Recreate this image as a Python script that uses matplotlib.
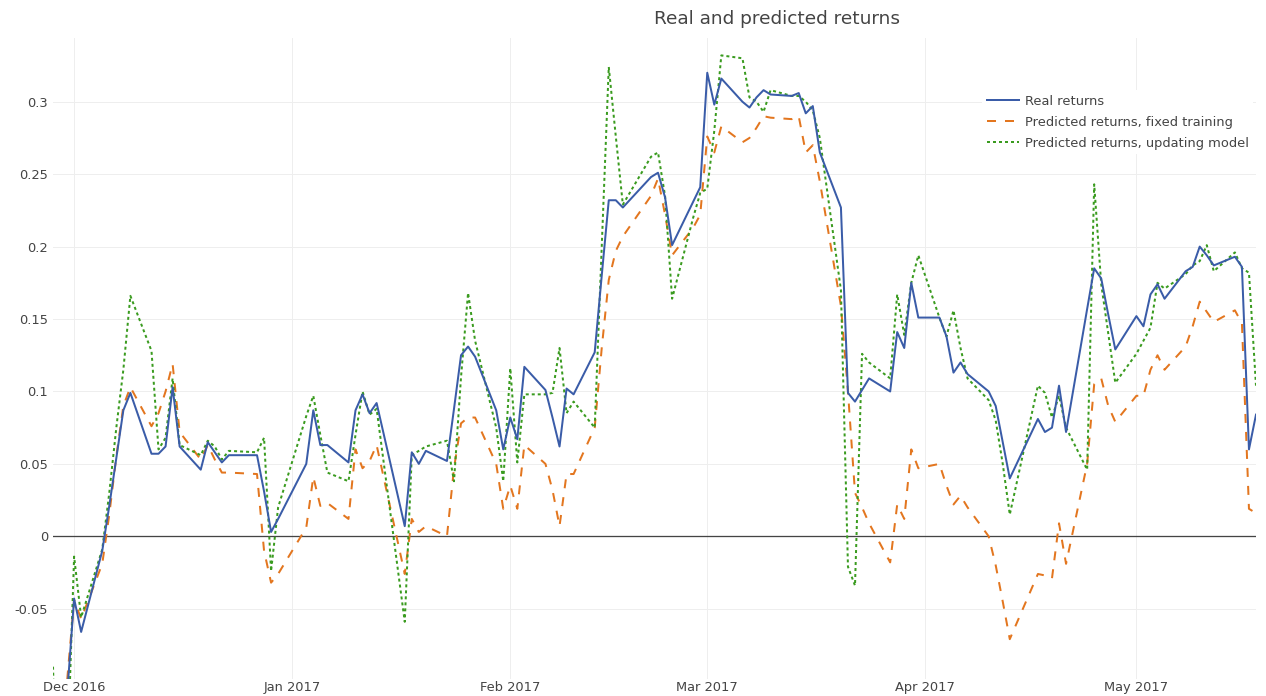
import numpy as np
import pandas as pd
import matplotlib
matplotlib.use('Agg')
import matplotlib.pyplot as plt
import matplotlib.dates as mdates
import matplotlib.ticker as mticker

# -- trading days shown on the chart (US market holidays removed) --
holidays = ['2016-12-26', '2017-01-02', '2017-01-16', '2017-02-20', '2017-04-14']
dates = pd.bdate_range('2016-11-28', '2017-05-18')
dates = dates[~dates.isin(pd.to_datetime(holidays))]

# -- values, one block per month --
realReturns = [
    -0.15, -0.13, -0.11,
    -0.043, -0.066, -0.010, 0.021, 0.054, 0.087, 0.099, 0.057, 0.057, 0.062, 0.103, 0.062,
    0.046, 0.065, 0.058, 0.051, 0.056, 0.056, 0.031, 0.003, 0.012,
    0.050, 0.087, 0.063, 0.063, 0.051, 0.087, 0.098, 0.085, 0.092, 0.007, 0.058, 0.050,
    0.059, 0.052, 0.088, 0.125, 0.131, 0.124, 0.087, 0.060,
    0.082, 0.067, 0.117, 0.101, 0.082, 0.062, 0.102, 0.098, 0.127, 0.180, 0.232, 0.232,
    0.227, 0.248, 0.251, 0.234, 0.201, 0.231, 0.241,
    0.320, 0.298, 0.316, 0.300, 0.296, 0.303, 0.308, 0.305, 0.304, 0.306, 0.292, 0.297,
    0.265, 0.227, 0.099, 0.093, 0.101, 0.109, 0.100, 0.141, 0.130, 0.175, 0.151,
    0.151, 0.138, 0.113, 0.120, 0.112, 0.100, 0.090, 0.065, 0.040, 0.081, 0.072, 0.075,
    0.104, 0.072, 0.157, 0.185, 0.178, 0.153, 0.129,
    0.152, 0.145, 0.167, 0.174, 0.164, 0.183, 0.186, 0.200, 0.194, 0.187, 0.193, 0.186,
    0.060, 0.084]

predFixed = [
    -0.14, -0.12, -0.10,
    -0.044, -0.057, -0.019, 0.015, 0.055, 0.090, 0.103, 0.076, 0.085, 0.100, 0.119, 0.072,
    0.053, 0.063, 0.053, 0.044, 0.044, 0.043, -0.010, -0.032, -0.026,
    0.006, 0.041, 0.021, 0.023, 0.012, 0.060, 0.047, 0.052, 0.063, -0.026, 0.012, 0.003,
    0.007, 0.000, 0.047, 0.078, 0.082, 0.082, 0.050, 0.019,
    0.035, 0.019, 0.063, 0.050, 0.032, 0.007, 0.043, 0.043, 0.075, 0.130, 0.177, 0.197,
    0.207, 0.235, 0.247, 0.222, 0.194, 0.213, 0.222,
    0.276, 0.265, 0.283, 0.272, 0.275, 0.282, 0.290, 0.289, 0.288, 0.290, 0.265, 0.270,
    0.245, 0.159, 0.100, 0.030, 0.020, 0.009, -0.018, 0.022, 0.012, 0.060, 0.047,
    0.050, 0.035, 0.022, 0.028, 0.020, 0.000, -0.020, -0.045, -0.071, -0.026, -0.027, -0.029,
    0.009, -0.019, 0.050, 0.105, 0.109, 0.090, 0.079,
    0.097, 0.097, 0.115, 0.125, 0.115, 0.131, 0.145, 0.162, 0.155, 0.148, 0.156, 0.147,
    0.019, 0.016]

predUpdating = [
    -0.09, -0.25, -0.16,
    -0.014, -0.056, -0.009, 0.030, 0.075, 0.115, 0.166, 0.128, 0.060, 0.068, 0.109, 0.063,
    0.056, 0.066, 0.062, 0.053, 0.059, 0.058, 0.068, -0.024, 0.020,
    0.083, 0.097, 0.070, 0.044, 0.038, 0.070, 0.100, 0.084, 0.088, -0.059, 0.056, 0.059,
    0.062, 0.066, 0.038, 0.110, 0.168, 0.135, 0.075, 0.038,
    0.116, 0.051, 0.098, 0.098, 0.099, 0.130, 0.085, 0.093, 0.075, 0.200, 0.324, 0.276,
    0.229, 0.262, 0.265, 0.235, 0.164, 0.220, 0.237,
    0.240, 0.280, 0.332, 0.330, 0.303, 0.300, 0.293, 0.308, 0.304, 0.304, 0.300, 0.294,
    0.275, 0.170, -0.021, -0.034, 0.126, 0.120, 0.109, 0.167, 0.139, 0.175, 0.194,
    0.151, 0.138, 0.156, 0.130, 0.109, 0.094, 0.080, 0.050, 0.015, 0.104, 0.099, 0.082,
    0.097, 0.075, 0.046, 0.243, 0.174, 0.140, 0.106,
    0.126, 0.135, 0.144, 0.175, 0.171, 0.181, 0.187, 0.190, 0.201, 0.183, 0.196, 0.185,
    0.182, 0.104]

seriesNames = ['Real returns', 'Predicted returns, fixed training', 'Predicted returns, updating model']
seriesColors = ['#3a5ca8', '#e3761f', '#3a9b1f']
yTicks = [-0.05, 0, 0.05, 0.1, 0.15, 0.2, 0.25, 0.3]

plt.rcParams['font.family'] = ['DejaVu Sans']
textColor = '#444444'
px = 72.0 / 100  # points per pixel at dpi 100

W, H = 1266, 696
fig = plt.figure(figsize=(W / 100, H / 100), dpi=100)
ax = fig.add_axes([53 / W, 1 - 679 / H, (1256 - 53) / W, (679 - 38) / H])

lw = 2 * px
ax.plot(dates, realReturns, color=seriesColors[0], lw=lw, label=seriesNames[0], zorder=4)
ax.plot(dates, predFixed, color=seriesColors[1], lw=lw, dashes=(4.5, 4.5),
        label=seriesNames[1], zorder=3)
ax.plot(dates, predUpdating, color=seriesColors[2], lw=lw, dashes=(1.5, 1.5),
        label=seriesNames[2], zorder=3)

ax.axhline(0, color=textColor, lw=1.3 * px, zorder=2)

ax.set_xlim(dates[0], dates[-1])
ax.set_ylim(-0.0985, 0.344)
ax.set_yticks(yTicks)
ax.yaxis.set_major_formatter(mticker.FuncFormatter(lambda v, p: '%g' % round(v, 3)))
ax.xaxis.set_major_locator(mdates.MonthLocator())
ax.xaxis.set_major_formatter(mdates.DateFormatter('%b %Y'))

ax.grid(True, color='#eeeeee', lw=1 * px, zorder=0)
ax.set_axisbelow(True)
for s in ax.spines.values():
    s.set_visible(False)
ax.tick_params(length=0, labelsize=13 * px, labelcolor=textColor)
ax.tick_params(axis='y', pad=5 * px)
ax.tick_params(axis='x', pad=2 * px)

fig.text(777 / W, 1 - 19 / H, 'Real and predicted returns', ha='center', va='center',
         fontsize=18.5 * px, color=textColor)

leg = ax.legend(loc='upper left', bbox_to_anchor=(982 / W, 1 - 90 / H),
                bbox_transform=fig.transFigure, frameon=True, fancybox=False,
                facecolor='white', edgecolor='none', framealpha=1,
                fontsize=13 * px, handlelength=2.5, handletextpad=0.45,
                labelspacing=0.62, borderpad=0.35, borderaxespad=0)
for t in leg.get_texts():
    t.set_color(textColor)
leg.set_zorder(10)

fig.savefig('out.png', dpi=100)
